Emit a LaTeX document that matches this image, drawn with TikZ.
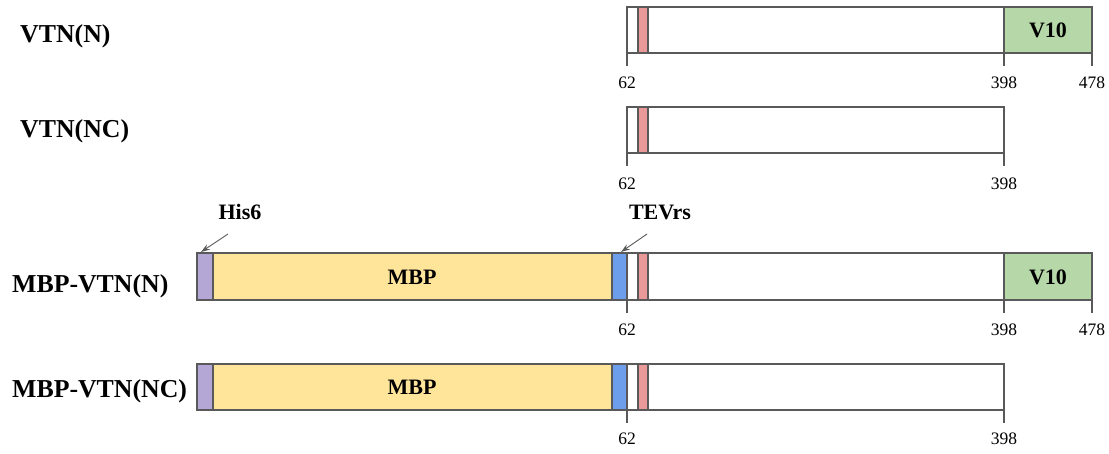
\documentclass[tikz,border=0pt]{standalone}
\usepackage{fontspec}
\setmainfont{Liberation Serif}
\usetikzlibrary{arrows.meta}

\definecolor{edge}{HTML}{595959}
\definecolor{pinkseg}{HTML}{EA9999}
\definecolor{hisseg}{HTML}{B4A7D6}
\definecolor{mbpseg}{HTML}{FFE599}
\definecolor{tevseg}{HTML}{6D9EEB}
\definecolor{vtenseg}{HTML}{B6D7A8}

\tikzset{
  seg/.style={draw=edge, line width=2pt},
  tickline/.style={draw=edge, line width=2pt},
  rowname/.style={font=\bfseries\fontsize{25.8}{30}\selectfont, anchor=base west, inner sep=0pt},
  domname/.style={font=\bfseries\fontsize{22}{26}\selectfont, inner sep=0pt},
  tagname/.style={font=\bfseries\fontsize{22}{26}\selectfont, anchor=base, inner sep=0pt},
  posnum/.style={font=\fontsize{17.5}{20}\selectfont, anchor=base, inner sep=0pt},
  pointer/.style={draw=edge, line width=0.9pt, -{Stealth[length=9pt,width=6pt]}}
}

\begin{document}
\begin{tikzpicture}[x=1pt, y=-1pt]
\useasboundingbox (0,0) rectangle (1109,453);

% ---- VTN(N) ----
\node[rowname] (n1) at (20,42) {VTN(N)};
\fill[white] (627,7) rectangle (1004,53);
\fill[pinkseg] (638,7) rectangle (648,53);
\fill[vtenseg] (1004,7) rectangle (1092,53);
\draw[seg] (627,7) rectangle (1092,53);
\draw[seg] (638,7) -- (638,53) (648,7) -- (648,53) (1004,7) -- (1004,53);
\node[domname] (v1) at (1048,30) {V10};
\draw[tickline] (627,53) -- (627,66) (1004,53) -- (1004,66) (1092,53) -- (1092,66);
\node[posnum] (a62) at (627,88) {62};
\node[posnum] (a398) at (1004,88) {398};
\node[posnum] (a478) at (1092,88) {478};

% ---- VTN(NC) ----
\node[rowname] (n2) at (20,137) {VTN(NC)};
\fill[pinkseg] (638,107) rectangle (648,153);
\draw[seg] (627,107) rectangle (1004,153);
\draw[seg] (638,107) -- (638,153) (648,107) -- (648,153);
\draw[tickline] (627,153) -- (627,166) (1004,153) -- (1004,166);
\node[posnum] (b62) at (627,189) {62};
\node[posnum] (b398) at (1004,189) {398};

% ---- MBP-VTN(N) ----
\node[rowname] (n3) at (12,292) {MBP-VTN(N)};
\fill[hisseg] (197,253) rectangle (213,300);
\fill[mbpseg] (213,253) rectangle (612,300);
\fill[tevseg] (612,253) rectangle (627,300);
\fill[pinkseg] (638,253) rectangle (648,300);
\fill[vtenseg] (1004,253) rectangle (1092,300);
\draw[seg] (197,253) rectangle (1092,300);
\draw[seg] (213,253) -- (213,300) (612,253) -- (612,300) (627,253) -- (627,300)
  (638,253) -- (638,300) (648,253) -- (648,300) (1004,253) -- (1004,300);
\node[domname] (m3) at (412,277) {MBP};
\node[domname] (v3) at (1048,277) {V10};
\draw[tickline] (627,300) -- (627,313) (1004,300) -- (1004,313) (1092,300) -- (1092,313);
\node[posnum] (c62) at (627,335) {62};
\node[posnum] (c398) at (1004,335) {398};
\node[posnum] (c478) at (1092,335) {478};

% tags with pointers
\node[tagname] (his) at (240,219) {His6};
\node[tagname] (tev) at (660,219) {TEVrs};
\coordinate (hisfrom) at (228,234);
\coordinate (histo) at (201,252);
\coordinate (tevfrom) at (647,234);
\coordinate (tevto) at (621,252);
\draw[pointer] (hisfrom) -- (histo);
\draw[pointer] (tevfrom) -- (tevto);

% ---- MBP-VTN(NC) ----
\node[rowname] (n4) at (12,397) {MBP-VTN(NC)};
\fill[hisseg] (197,364) rectangle (213,410);
\fill[mbpseg] (213,364) rectangle (612,410);
\fill[tevseg] (612,364) rectangle (627,410);
\fill[pinkseg] (638,364) rectangle (648,410);
\draw[seg] (197,364) rectangle (1004,410);
\draw[seg] (213,364) -- (213,410) (612,364) -- (612,410) (627,364) -- (627,410)
  (638,364) -- (638,410) (648,364) -- (648,410);
\node[domname] (m4) at (412,387) {MBP};
\draw[tickline] (627,410) -- (627,423) (1004,410) -- (1004,423);
\node[posnum] (d62) at (627,444) {62};
\node[posnum] (d398) at (1004,444) {398};
\end{tikzpicture}
\end{document}
